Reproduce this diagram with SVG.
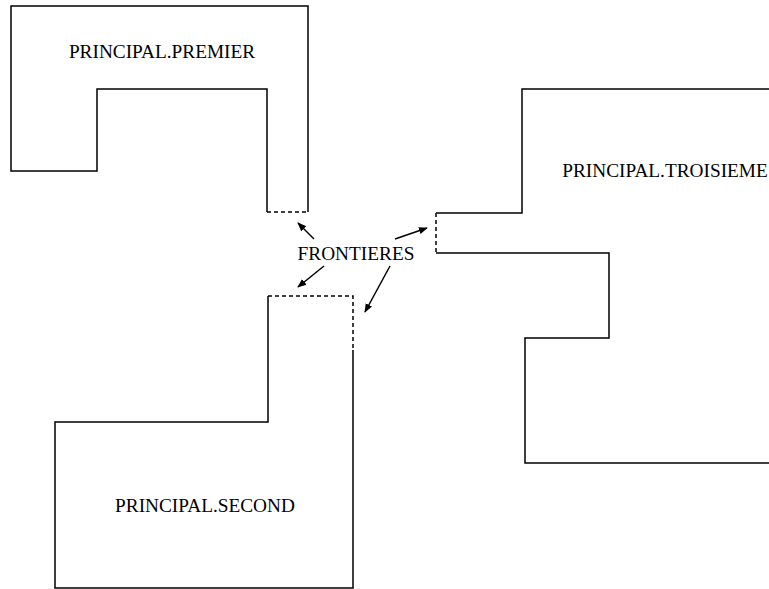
<svg xmlns="http://www.w3.org/2000/svg" width="769" height="589" viewBox="0 0 769 589">
<style>
.solid{fill:none;stroke:#000;stroke-width:1.5}
.dash{fill:none;stroke:#000;stroke-width:1.5;stroke-dasharray:4 3}
.lbl{font-family:"Liberation Serif","Times New Roman",serif;font-size:19.3px;fill:#000;text-anchor:middle}
.arr{fill:none;stroke:#000;stroke-width:1.5;marker-end:url(#ah)}
</style>
<defs>
<marker id="ah" viewBox="0 0 10 10" refX="9" refY="5" markerWidth="9" markerHeight="9" markerUnits="userSpaceOnUse" orient="auto">
<path d="M0,1 L10,5 L0,9 z" fill="#000"/>
</marker>
</defs>
<rect width="769" height="589" fill="#fff"/>
<g id="premier">
<path class="solid" d="M267,212 L267,89 L97,89 L97,171 L11,171 L11,6 L308,6 L308,212"/>
<path class="dash" d="M267,212 L308,212"/>
<text class="lbl" x="162" y="58">PRINCIPAL.PREMIER</text>
</g>
<g id="troisieme">
<path class="solid" d="M769,89 L522,89 L522,213 L436,213"/>
<path class="dash" d="M436,213 L436,253"/>
<path class="solid" d="M436,253 L609,253 L609,338 L525,338 L525,463 L769,463"/>
<text class="lbl" x="665" y="177">PRINCIPAL.TROISIEME</text>
</g>
<g id="second">
<path class="dash" d="M268,296 L353,296 L353,350"/>
<path class="solid" d="M268,296 L268,422 L55,422 L55,588 L353,588 L353,350"/>
<text class="lbl" x="205" y="512">PRINCIPAL.SECOND</text>
</g>
<g id="frontieres">
<text class="lbl" x="356" y="260">FRONTIERES</text>
</g>
<g id="connectors">
<line class="arr" x1="314" y1="239" x2="298" y2="223"/>
<line class="arr" x1="395" y1="239" x2="427" y2="228"/>
<line class="arr" x1="324" y1="266" x2="298" y2="287"/>
<line class="arr" x1="390" y1="266" x2="365" y2="312"/>
</g>
</svg>
